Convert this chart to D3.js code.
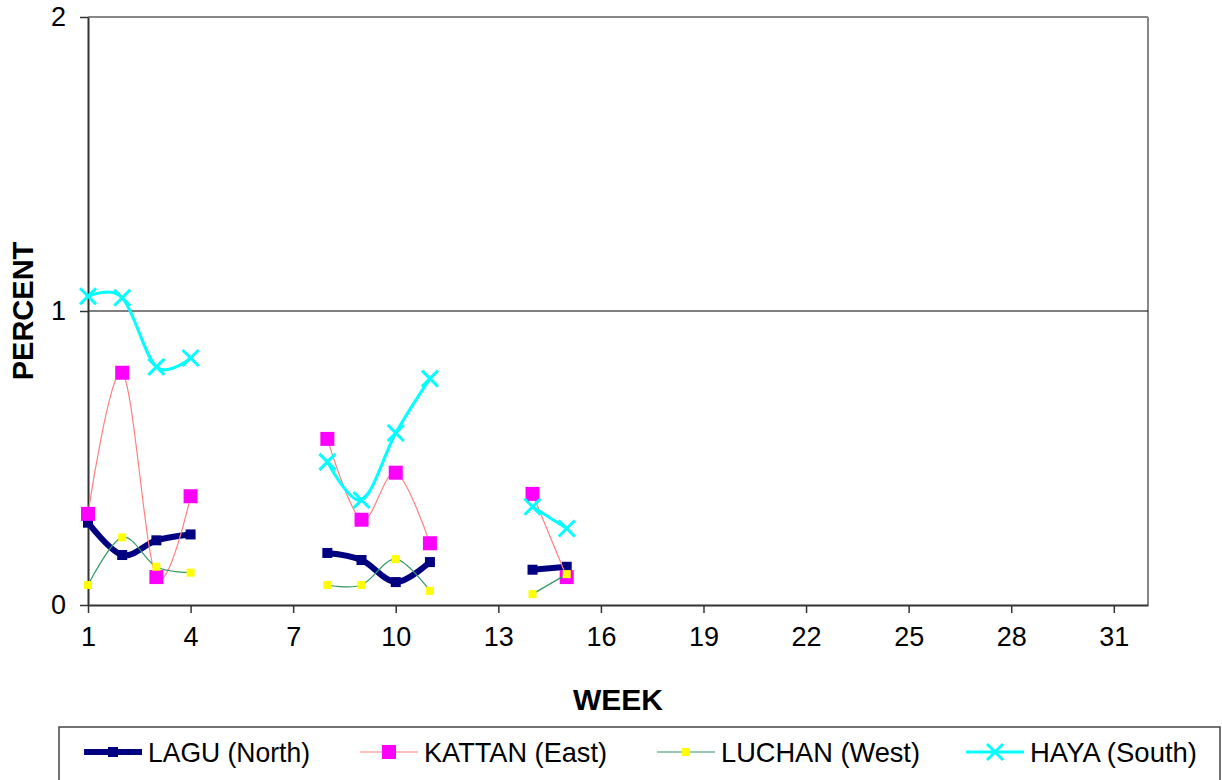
<!DOCTYPE html>
<html>
<head>
<meta charset="utf-8">
<script src="https://cdn.jsdelivr.net/npm/d3@7"></script>
<style>
  body { margin: 0; background: #fff; }
  text { font-family: "Liberation Sans", Arial, sans-serif; }
</style>
</head>
<body>
<svg id="chart" width="1222" height="780"></svg>
<script>
// data (null = no reading that week)
const weeks  = [1, 2, 3, 4, 5, 6, 7, 8, 9, 10, 11, 12, 13, 14, 15]
const lagu   = [0.28, 0.17, 0.22, 0.24, null, null, null, 0.177, 0.153, 0.078, 0.146, null, null, 0.12, 0.13]
const kattan = [0.31, 0.79, 0.095, 0.37, null, null, null, 0.565, 0.29, 0.45, 0.21, null, null, 0.378, 0.095]
const luchan = [0.068, 0.23, 0.13, 0.11, null, null, null, 0.068, 0.068, 0.156, 0.048, null, null, 0.037, 0.105]
const haya   = [1.05, 1.045, 0.81, 0.84, null, null, null, 0.487, 0.357, 0.585, 0.77, null, null, 0.334, 0.26]
const xTicks = [1, 4, 7, 10, 13, 16, 19, 22, 25, 28, 31]
const yTicks = [0, 1, 2]
const seriesNames = ["LAGU (North)", "KATTAN (East)", "LUCHAN (West)", "HAYA (South)"]

const svg = d3.select("#chart")
const plotLeft = 88, plotRight = 1148, plotTop = 17, plotBottom = 605

const x = d3.scaleLinear().domain([1, 32]).range([plotLeft, plotRight])
const y = d3.scaleLinear().domain([0, 2]).range([plotBottom, plotTop])

// plot frame (grey top/right like the original)
svg.append("line").attr("x1", plotLeft).attr("x2", plotRight).attr("y1", plotTop).attr("y2", plotTop)
    .attr("stroke", "#888").attr("stroke-width", 2)
svg.append("line").attr("x1", plotRight).attr("x2", plotRight).attr("y1", plotTop).attr("y2", plotBottom)
    .attr("stroke", "#888").attr("stroke-width", 2)

// gridline at 1
svg.append("line").attr("x1", plotLeft).attr("x2", plotRight).attr("y1", y(1)).attr("y2", y(1))
    .attr("stroke", "#000").attr("stroke-width", 1)

// axes
const xAxis = svg.append("g").attr("transform", `translate(0,${plotBottom})`)
    .call(d3.axisBottom(x).tickValues(xTicks).tickSize(8).tickSizeOuter(0).tickPadding(14))
xAxis.select(".domain").attr("stroke", "#333").attr("stroke-width", 2)
xAxis.selectAll(".tick line").attr("stroke", "#333").attr("stroke-width", 1.5)
xAxis.selectAll("text").attr("font-size", 27).attr("fill", "#000")
    .attr("font-family", "Liberation Sans, Arial, sans-serif")

const yAxis = svg.append("g").attr("transform", `translate(${plotLeft},0)`)
    .call(d3.axisLeft(y).tickValues(yTicks).tickFormat(d3.format("d")).tickSize(8).tickSizeOuter(0).tickPadding(14))
yAxis.select(".domain").attr("stroke", "#333").attr("stroke-width", 2)
yAxis.selectAll(".tick line").attr("stroke", "#333").attr("stroke-width", 1.5)
yAxis.selectAll("text").attr("font-size", 27).attr("fill", "#000")
    .attr("font-family", "Liberation Sans, Arial, sans-serif")

// axis titles
svg.append("text").attr("x", 618).attr("y", 710).attr("text-anchor", "middle")
    .attr("font-size", 30).attr("font-weight", "bold").text("WEEK")
svg.append("text").attr("transform", "translate(33,311) rotate(-90)").attr("text-anchor", "middle")
    .attr("font-size", 29).attr("font-weight", "bold").text("PERCENT")

// series
const series = [
  { name: seriesNames[0], values: lagu,   line: "#000080", width: 6,   marker: "square", fill: "#000080", size: 10 },
  { name: seriesNames[1], values: kattan, line: "#FF8080", width: 1.2, marker: "square", fill: "#FF00FF", size: 14 },
  { name: seriesNames[2], values: luchan, line: "#339966", width: 1.2, marker: "square", fill: "#FFFF00", size: 8 },
  { name: seriesNames[3], values: haya,   line: "#00FFFF", width: 3,   marker: "x",      fill: "#00FFFF", size: 16 }
]

const lineGen = d3.line()
    .defined(d => d.v !== null)
    .x(d => x(d.w))
    .y(d => y(d.v))
    .curve(d3.curveCardinal)

function drawMarker(g, s, cx, cy) {
  if (s.marker === "square") {
    g.append("rect").attr("x", cx - s.size / 2).attr("y", cy - s.size / 2)
      .attr("width", s.size).attr("height", s.size).attr("fill", s.fill)
  } else {
    const h = s.size / 2
    g.append("path").attr("d", `M${cx - h},${cy - h}L${cx + h},${cy + h}M${cx - h},${cy + h}L${cx + h},${cy - h}`)
      .attr("stroke", s.fill).attr("stroke-width", 3).attr("fill", "none")
  }
}

series.forEach(s => {
  const pts = weeks.map((w, i) => ({ w: w, v: s.values[i] }))
  const g = svg.append("g")
  g.append("path").attr("d", lineGen(pts)).attr("fill", "none")
    .attr("stroke", s.line).attr("stroke-width", s.width).attr("stroke-linejoin", "round")
  pts.filter(d => d.v !== null).forEach(d => drawMarker(g, s, x(d.w), y(d.v)))
})

// legend
svg.append("rect").attr("x", 59).attr("y", 727).attr("width", 1161).attr("height", 70)
    .attr("fill", "none").attr("stroke", "#444").attr("stroke-width", 1.5)
const legendX = [84, 360, 657, 966]
const legendW = [162, 183, 199, 167]
series.forEach((s, i) => {
  const g = svg.append("g")
  const x0 = legendX[i], ly = 752
  g.append("line").attr("x1", x0).attr("x2", x0 + 58).attr("y1", ly).attr("y2", ly)
    .attr("stroke", s.line).attr("stroke-width", s.width)
  drawMarker(g, s, x0 + 29, ly)
  g.append("text").attr("x", x0 + 64).attr("y", 762).attr("font-size", 28)
    .attr("textLength", legendW[i]).attr("lengthAdjust", "spacingAndGlyphs").text(s.name)
})
</script>
</body>
</html>
